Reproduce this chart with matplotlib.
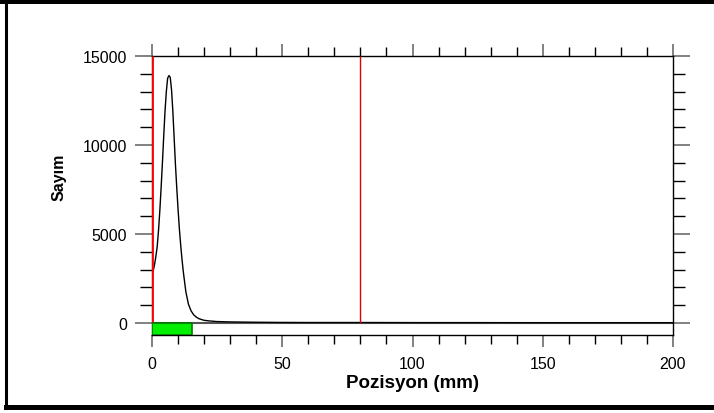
import matplotlib.pyplot as plt
from matplotlib.patches import Rectangle
from matplotlib.lines import Line2D
from matplotlib.ticker import MultipleLocator

plt.rcParams['font.family'] = ['Liberation Sans', 'DejaVu Sans']

# profil verisi (okunan degerler)
pozisyon = [0, 0.5, 1, 1.5, 2, 2.5, 3, 3.5, 4, 4.5, 5, 5.5, 6, 6.5, 7, 7.5, 8,
            8.5, 9, 9.5, 10, 10.5, 11, 11.5, 12, 13, 14, 15, 16, 17, 18,
            20, 22, 25, 30, 35, 40, 50, 60, 80, 100, 120, 150, 200]
sayim = [2700, 2950, 3300, 3750, 4300, 5200, 6300, 7600, 9000, 10500, 11900,
         13000, 13750, 13900, 13800, 13100, 11900, 10400, 8900, 7600, 6400,
         5300, 4400, 3600, 2900, 1750, 1050, 680, 460, 330, 240, 150, 115,
         80, 60, 50, 40, 30, 25, 25, 20, 20, 15, 15]

sinir_sol = 0
sinir_sag = 80
bolge = (0, 15.4)

PT = 72 / 100  # px -> pt

fig = plt.figure(figsize=(7.14, 4.14), dpi=100)
ax = fig.add_axes([152/714, 1-336/414, 521/714, 279/414])

ax.plot(pozisyon, sayim, color='black', lw=1)
ax.axhline(0, color='#555555', lw=1.5, zorder=1)
ax.vlines(sinir_sol, 0, 15000, color='red', lw=2, zorder=4)
ax.vlines(sinir_sag, 0, 15000, color='#dd0000', lw=1, zorder=4)
ax.add_patch(Rectangle((bolge[0], -675), bolge[1]-bolge[0], 675,
                       facecolor='#00ee00', edgecolor='#007700', lw=1.2, zorder=5))

ax.set_xlim(0, 200)
ax.set_ylim(-675, 15000)
ax.xaxis.set_major_locator(MultipleLocator(50))
ax.xaxis.set_minor_locator(MultipleLocator(10))
ax.yaxis.set_major_locator(MultipleLocator(5000))
ax.yaxis.set_minor_locator(MultipleLocator(1000))
ax.set_yticks([0, 5000, 10000, 15000])

ax.tick_params(which='both', direction='out', top=True, right=True,
               labelsize=11.5, labelcolor='black')
ax.tick_params(axis='y', which='major', length=17*PT, width=1.3, color='#777777', pad=8*PT)
ax.tick_params(axis='y', which='minor', length=12*PT, width=1, color='black')
ax.tick_params(axis='x', which='major', length=12*PT, width=1.3, color='#777777', pad=9*PT)
ax.tick_params(axis='x', which='minor', length=9*PT, width=1, color='black')
for s in ax.spines.values():
    s.set_color('black')
    s.set_linewidth(1)

ax.set_xlabel('Pozisyon (mm)', fontsize=13.5, fontweight='bold', labelpad=2)
fig.text(59/714, 1-177/414, 'Sayım', rotation=90, fontsize=11.5,
         fontweight='bold', ha='center', va='center')

# cerceve
fig.add_artist(Line2D([0, 1], [1-2.4/414, 1-2.4/414], color='black', lw=3.6, transform=fig.transFigure))
fig.add_artist(Line2D([6/714, 1], [1-408/414, 1-408/414], color='black', lw=3.6, transform=fig.transFigure))
fig.add_artist(Line2D([6/714, 6/714], [1-409/414, 1-2.4/414], color='black', lw=2.2, transform=fig.transFigure))

fig.savefig('out.png', dpi=100)
